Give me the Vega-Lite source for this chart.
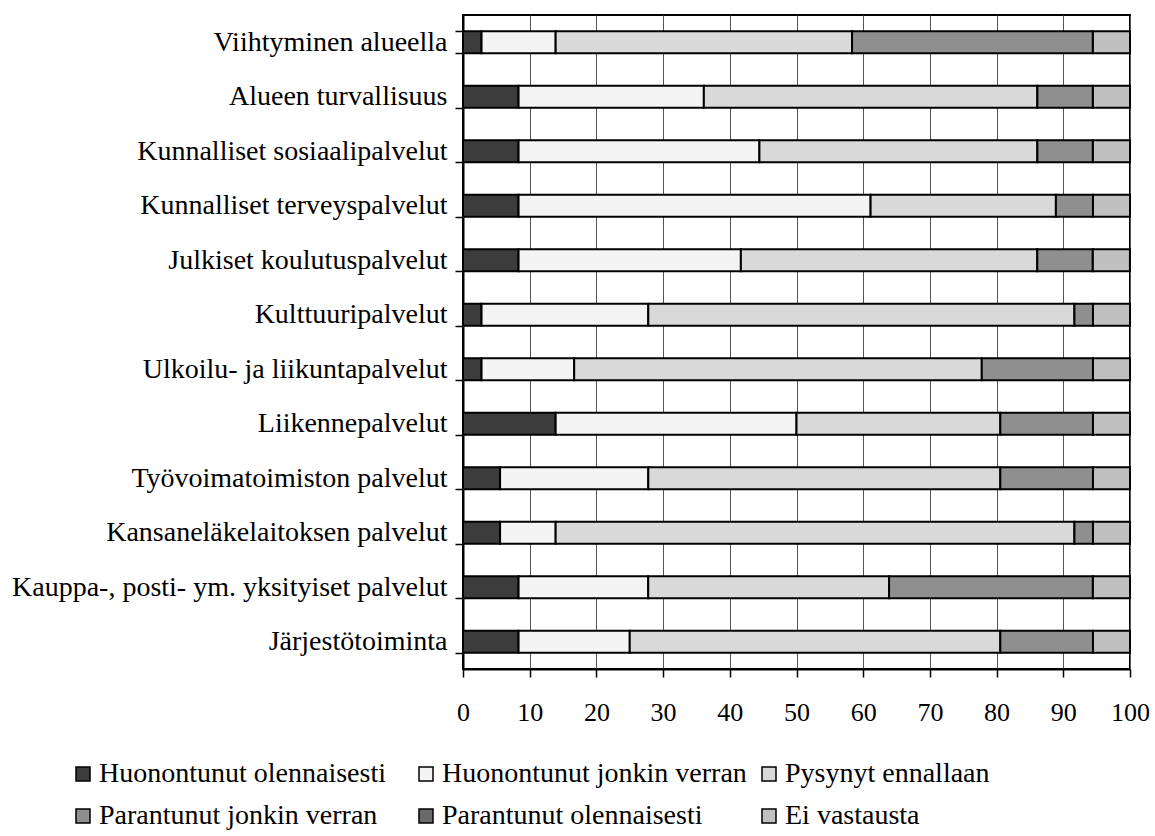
{
  "$schema": "https://vega.github.io/schema/vega-lite/v6.json",
  "width": 667,
  "height": 654,
  "autosize": {"type": "none"},
  "padding": {"left": 463, "top": 15, "right": 25, "bottom": 167},
  "background": "white",
  "config": {
    "view": {"stroke": "black", "strokeWidth": 2},
    "font": "Liberation Serif"
  },
  "data": {
    "values": [
      {"kohde": "Viihtyminen alueella", "vastaus": "Huonontunut olennaisesti", "nro": 1, "pct": 2.78},
      {"kohde": "Viihtyminen alueella", "vastaus": "Huonontunut jonkin verran", "nro": 2, "pct": 11.11},
      {"kohde": "Viihtyminen alueella", "vastaus": "Pysynyt ennallaan", "nro": 3, "pct": 44.44},
      {"kohde": "Viihtyminen alueella", "vastaus": "Parantunut jonkin verran", "nro": 4, "pct": 36.11},
      {"kohde": "Viihtyminen alueella", "vastaus": "Parantunut olennaisesti", "nro": 5, "pct": 0},
      {"kohde": "Viihtyminen alueella", "vastaus": "Ei vastausta", "nro": 6, "pct": 5.56},

      {"kohde": "Alueen turvallisuus", "vastaus": "Huonontunut olennaisesti", "nro": 1, "pct": 8.33},
      {"kohde": "Alueen turvallisuus", "vastaus": "Huonontunut jonkin verran", "nro": 2, "pct": 27.78},
      {"kohde": "Alueen turvallisuus", "vastaus": "Pysynyt ennallaan", "nro": 3, "pct": 50.0},
      {"kohde": "Alueen turvallisuus", "vastaus": "Parantunut jonkin verran", "nro": 4, "pct": 8.33},
      {"kohde": "Alueen turvallisuus", "vastaus": "Parantunut olennaisesti", "nro": 5, "pct": 0},
      {"kohde": "Alueen turvallisuus", "vastaus": "Ei vastausta", "nro": 6, "pct": 5.56},

      {"kohde": "Kunnalliset sosiaalipalvelut", "vastaus": "Huonontunut olennaisesti", "nro": 1, "pct": 8.33},
      {"kohde": "Kunnalliset sosiaalipalvelut", "vastaus": "Huonontunut jonkin verran", "nro": 2, "pct": 36.11},
      {"kohde": "Kunnalliset sosiaalipalvelut", "vastaus": "Pysynyt ennallaan", "nro": 3, "pct": 41.67},
      {"kohde": "Kunnalliset sosiaalipalvelut", "vastaus": "Parantunut jonkin verran", "nro": 4, "pct": 8.33},
      {"kohde": "Kunnalliset sosiaalipalvelut", "vastaus": "Parantunut olennaisesti", "nro": 5, "pct": 0},
      {"kohde": "Kunnalliset sosiaalipalvelut", "vastaus": "Ei vastausta", "nro": 6, "pct": 5.56},

      {"kohde": "Kunnalliset terveyspalvelut", "vastaus": "Huonontunut olennaisesti", "nro": 1, "pct": 8.33},
      {"kohde": "Kunnalliset terveyspalvelut", "vastaus": "Huonontunut jonkin verran", "nro": 2, "pct": 52.78},
      {"kohde": "Kunnalliset terveyspalvelut", "vastaus": "Pysynyt ennallaan", "nro": 3, "pct": 27.78},
      {"kohde": "Kunnalliset terveyspalvelut", "vastaus": "Parantunut jonkin verran", "nro": 4, "pct": 5.56},
      {"kohde": "Kunnalliset terveyspalvelut", "vastaus": "Parantunut olennaisesti", "nro": 5, "pct": 0},
      {"kohde": "Kunnalliset terveyspalvelut", "vastaus": "Ei vastausta", "nro": 6, "pct": 5.55},

      {"kohde": "Julkiset koulutuspalvelut", "vastaus": "Huonontunut olennaisesti", "nro": 1, "pct": 8.33},
      {"kohde": "Julkiset koulutuspalvelut", "vastaus": "Huonontunut jonkin verran", "nro": 2, "pct": 33.33},
      {"kohde": "Julkiset koulutuspalvelut", "vastaus": "Pysynyt ennallaan", "nro": 3, "pct": 44.44},
      {"kohde": "Julkiset koulutuspalvelut", "vastaus": "Parantunut jonkin verran", "nro": 4, "pct": 8.33},
      {"kohde": "Julkiset koulutuspalvelut", "vastaus": "Parantunut olennaisesti", "nro": 5, "pct": 0},
      {"kohde": "Julkiset koulutuspalvelut", "vastaus": "Ei vastausta", "nro": 6, "pct": 5.56},

      {"kohde": "Kulttuuripalvelut", "vastaus": "Huonontunut olennaisesti", "nro": 1, "pct": 2.78},
      {"kohde": "Kulttuuripalvelut", "vastaus": "Huonontunut jonkin verran", "nro": 2, "pct": 25.0},
      {"kohde": "Kulttuuripalvelut", "vastaus": "Pysynyt ennallaan", "nro": 3, "pct": 63.89},
      {"kohde": "Kulttuuripalvelut", "vastaus": "Parantunut jonkin verran", "nro": 4, "pct": 2.78},
      {"kohde": "Kulttuuripalvelut", "vastaus": "Parantunut olennaisesti", "nro": 5, "pct": 0},
      {"kohde": "Kulttuuripalvelut", "vastaus": "Ei vastausta", "nro": 6, "pct": 5.55},

      {"kohde": "Ulkoilu- ja liikuntapalvelut", "vastaus": "Huonontunut olennaisesti", "nro": 1, "pct": 2.78},
      {"kohde": "Ulkoilu- ja liikuntapalvelut", "vastaus": "Huonontunut jonkin verran", "nro": 2, "pct": 13.89},
      {"kohde": "Ulkoilu- ja liikuntapalvelut", "vastaus": "Pysynyt ennallaan", "nro": 3, "pct": 61.11},
      {"kohde": "Ulkoilu- ja liikuntapalvelut", "vastaus": "Parantunut jonkin verran", "nro": 4, "pct": 16.67},
      {"kohde": "Ulkoilu- ja liikuntapalvelut", "vastaus": "Parantunut olennaisesti", "nro": 5, "pct": 0},
      {"kohde": "Ulkoilu- ja liikuntapalvelut", "vastaus": "Ei vastausta", "nro": 6, "pct": 5.55},

      {"kohde": "Liikennepalvelut", "vastaus": "Huonontunut olennaisesti", "nro": 1, "pct": 13.89},
      {"kohde": "Liikennepalvelut", "vastaus": "Huonontunut jonkin verran", "nro": 2, "pct": 36.11},
      {"kohde": "Liikennepalvelut", "vastaus": "Pysynyt ennallaan", "nro": 3, "pct": 30.56},
      {"kohde": "Liikennepalvelut", "vastaus": "Parantunut jonkin verran", "nro": 4, "pct": 13.89},
      {"kohde": "Liikennepalvelut", "vastaus": "Parantunut olennaisesti", "nro": 5, "pct": 0},
      {"kohde": "Liikennepalvelut", "vastaus": "Ei vastausta", "nro": 6, "pct": 5.55},

      {"kohde": "Työvoimatoimiston palvelut", "vastaus": "Huonontunut olennaisesti", "nro": 1, "pct": 5.56},
      {"kohde": "Työvoimatoimiston palvelut", "vastaus": "Huonontunut jonkin verran", "nro": 2, "pct": 22.22},
      {"kohde": "Työvoimatoimiston palvelut", "vastaus": "Pysynyt ennallaan", "nro": 3, "pct": 52.78},
      {"kohde": "Työvoimatoimiston palvelut", "vastaus": "Parantunut jonkin verran", "nro": 4, "pct": 13.89},
      {"kohde": "Työvoimatoimiston palvelut", "vastaus": "Parantunut olennaisesti", "nro": 5, "pct": 0},
      {"kohde": "Työvoimatoimiston palvelut", "vastaus": "Ei vastausta", "nro": 6, "pct": 5.55},

      {"kohde": "Kansaneläkelaitoksen palvelut", "vastaus": "Huonontunut olennaisesti", "nro": 1, "pct": 5.56},
      {"kohde": "Kansaneläkelaitoksen palvelut", "vastaus": "Huonontunut jonkin verran", "nro": 2, "pct": 8.33},
      {"kohde": "Kansaneläkelaitoksen palvelut", "vastaus": "Pysynyt ennallaan", "nro": 3, "pct": 77.78},
      {"kohde": "Kansaneläkelaitoksen palvelut", "vastaus": "Parantunut jonkin verran", "nro": 4, "pct": 2.78},
      {"kohde": "Kansaneläkelaitoksen palvelut", "vastaus": "Parantunut olennaisesti", "nro": 5, "pct": 0},
      {"kohde": "Kansaneläkelaitoksen palvelut", "vastaus": "Ei vastausta", "nro": 6, "pct": 5.55},

      {"kohde": "Kauppa-, posti- ym. yksityiset palvelut", "vastaus": "Huonontunut olennaisesti", "nro": 1, "pct": 8.33},
      {"kohde": "Kauppa-, posti- ym. yksityiset palvelut", "vastaus": "Huonontunut jonkin verran", "nro": 2, "pct": 19.44},
      {"kohde": "Kauppa-, posti- ym. yksityiset palvelut", "vastaus": "Pysynyt ennallaan", "nro": 3, "pct": 36.11},
      {"kohde": "Kauppa-, posti- ym. yksityiset palvelut", "vastaus": "Parantunut jonkin verran", "nro": 4, "pct": 30.56},
      {"kohde": "Kauppa-, posti- ym. yksityiset palvelut", "vastaus": "Parantunut olennaisesti", "nro": 5, "pct": 0},
      {"kohde": "Kauppa-, posti- ym. yksityiset palvelut", "vastaus": "Ei vastausta", "nro": 6, "pct": 5.56},

      {"kohde": "Järjestötoiminta", "vastaus": "Huonontunut olennaisesti", "nro": 1, "pct": 8.33},
      {"kohde": "Järjestötoiminta", "vastaus": "Huonontunut jonkin verran", "nro": 2, "pct": 16.67},
      {"kohde": "Järjestötoiminta", "vastaus": "Pysynyt ennallaan", "nro": 3, "pct": 55.56},
      {"kohde": "Järjestötoiminta", "vastaus": "Parantunut jonkin verran", "nro": 4, "pct": 13.89},
      {"kohde": "Järjestötoiminta", "vastaus": "Parantunut olennaisesti", "nro": 5, "pct": 0},
      {"kohde": "Järjestötoiminta", "vastaus": "Ei vastausta", "nro": 6, "pct": 5.55}
    ]
  },
  "mark": {"type": "bar", "stroke": "black", "strokeWidth": 2, "opacity": 1},
  "encoding": {
    "y": {
      "field": "kohde",
      "type": "nominal",
      "sort": null,
      "title": null,
      "scale": {"paddingInner": 0.6, "paddingOuter": 0.3},
      "axis": {
        "tickBand": "extent",
        "tickSize": 8,
        "tickColor": "black",
        "tickWidth": 1.5,
        "domainColor": "black",
        "domainWidth": 2,
        "labelFont": "Liberation Serif",
        "labelFontSize": 28,
        "labelColor": "black",
        "labelPadding": 8,
        "labelLimit": 0,
        "grid": false
      }
    },
    "x": {
      "field": "pct",
      "type": "quantitative",
      "stack": "zero",
      "title": null,
      "scale": {"domain": [0, 100], "nice": false, "clamp": true},
      "axis": {
        "values": [0, 10, 20, 30, 40, 50, 60, 70, 80, 90, 100],
        "grid": true,
        "gridColor": "#555555",
        "gridWidth": 1,
        "tickSize": 8,
        "tickColor": "black",
        "tickWidth": 1.5,
        "domainColor": "black",
        "domainWidth": 2,
        "labelFont": "Liberation Serif",
        "labelFontSize": 26,
        "labelColor": "black",
        "labelPadding": 22,
        "labelFlush": false
      }
    },
    "order": {"field": "nro", "type": "quantitative", "sort": "ascending"},
    "color": {
      "field": "vastaus",
      "type": "nominal",
      "sort": ["Huonontunut olennaisesti", "Huonontunut jonkin verran", "Pysynyt ennallaan", "Parantunut jonkin verran", "Parantunut olennaisesti", "Ei vastausta"],
      "scale": {
        "domain": ["Huonontunut olennaisesti", "Huonontunut jonkin verran", "Pysynyt ennallaan", "Parantunut jonkin verran", "Parantunut olennaisesti", "Ei vastausta"],
        "range": ["#3c3c3c", "#f4f4f4", "#d9d9d9", "#8f8f8f", "#6a6a6a", "#c0c0c0"]
      },
      "legend": {
        "title": null,
        "orient": "none",
        "legendX": -394,
        "legendY": 745,
        "direction": "horizontal",
        "columns": 3,
        "gridAlign": "all",
        "columnPadding": 8,
        "rowPadding": 14,
        "padding": 0,
        "symbolType": "square",
        "symbolSize": 196,
        "symbolStrokeColor": "black",
        "symbolStrokeWidth": 1.5,
        "symbolOpacity": 1,
        "labelFont": "Liberation Serif",
        "labelFontSize": 28,
        "labelColor": "black",
        "labelOffset": 2,
        "labelLimit": 0
      }
    }
  }
}
